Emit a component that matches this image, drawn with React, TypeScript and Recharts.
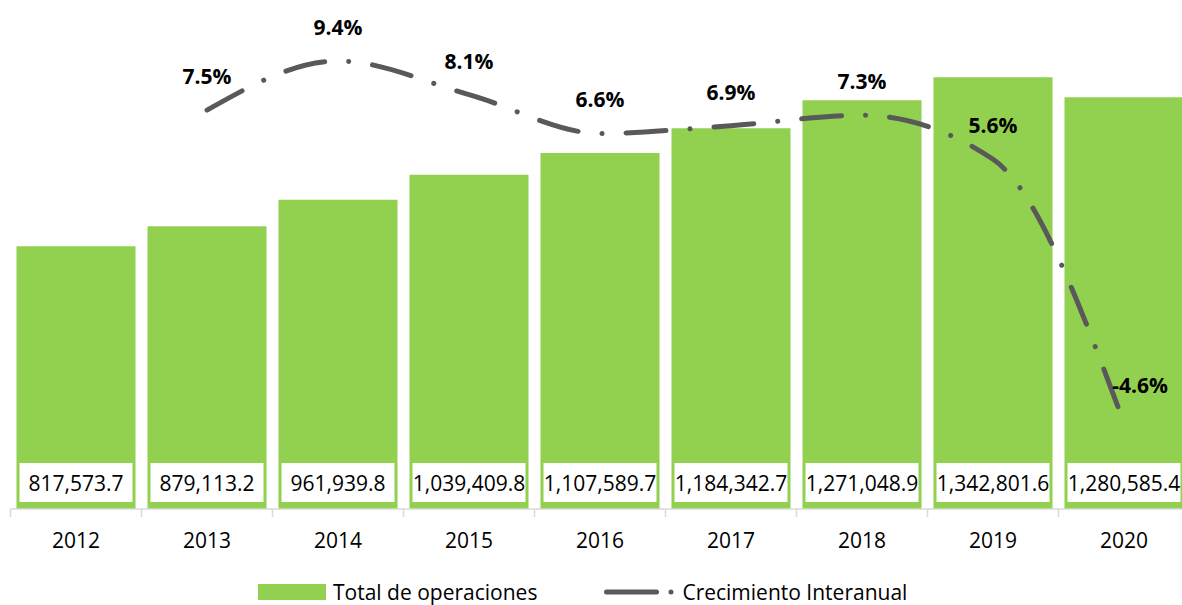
import { Bar, ComposedChart, LabelList, Legend, Line, XAxis, YAxis } from 'recharts';

const years = ['2012', '2013', '2014', '2015', '2016', '2017', '2018', '2019', '2020'];
const totalOps = [817573.7, 879113.2, 961939.8, 1039409.8, 1107589.7, 1184342.7, 1271048.9, 1342801.6, 1280585.4];
const growth = [null, 7.5, 9.4, 8.1, 6.6, 6.9, 7.3, 5.6, -4.6];

const CHART_W = 1200;
const CHART_H = 605;
const MARGIN = { top: 5, right: 10.5, left: 10.5, bottom: 0 };
const BAND = (CHART_W - MARGIN.left - MARGIN.right) / years.length;
const FONT = '"Open Sans", sans-serif';
const GREEN = '#92D050';
const LINE_GREY = '#595959';

const data = years.map((year, i) => ({ year, total: totalOps[i], growth: growth[i] }));

const fmtNum = (v: number) =>
  v.toLocaleString('en-US', { minimumFractionDigits: 1, maximumFractionDigits: 1 });

function YearTick({ x, y, payload, index }: any) {
  const left = x - BAND / 2;
  return (
    <g>
      <line x1={left} x2={left} y1={y} y2={y + 8} stroke="#d9d9d9" strokeWidth={1.5} />
      {index === years.length - 1 && (
        <line x1={left + BAND} x2={left + BAND} y1={y} y2={y + 8} stroke="#d9d9d9" strokeWidth={1.5} />
      )}
      <text x={x} y={y + 31} textAnchor="middle" dominantBaseline="central" fontFamily={FONT} fontSize={21} fill="#000">
        {payload.value}
      </text>
    </g>
  );
}

function ValueBox({ x, y, width, height, value }: any) {
  const bottom = y + height;
  return (
    <g>
      <rect x={x + 3} y={bottom - 46} width={width - 6} height={39} fill="#fff" />
      <text x={x + width / 2} y={bottom - 26} textAnchor="middle" dominantBaseline="central" fontFamily={FONT} fontSize={21} fill="#000">
        {fmtNum(value)}
      </text>
    </g>
  );
}

function PctLabel({ x, y, value, index }: any) {
  if (value == null) return null;
  const last = index === years.length - 1;
  return (
    <text
      x={last ? x + 16 : x}
      y={last ? y - 38 : y - 34}
      textAnchor="middle"
      dominantBaseline="central"
      fontFamily={FONT}
      fontSize={21}
      fontWeight="bold"
      fill="#000"
    >
      {value.toFixed(1)}%
    </text>
  );
}

function LegendBox() {
  return (
    <div style={{ display: 'flex', alignItems: 'center', height: 26, fontFamily: FONT, fontSize: 21, color: '#000', whiteSpace: 'nowrap' }}>
      <span style={{ display: 'inline-block', width: 68, height: 16, background: GREEN, marginRight: 7 }} />
      <span>Total de operaciones</span>
      <svg width={84} height={26} style={{ marginLeft: 61 }}>
        <line x1={8.5} x2={58.5} y1={13} y2={13} stroke={LINE_GREY} strokeWidth={5} strokeLinecap="round" />
        <circle cx={73} cy={13} r={2.5} fill={LINE_GREY} />
      </svg>
      <span>Crecimiento Interanual</span>
    </div>
  );
}

export default function App() {
  return (
    <div style={{ position: 'absolute', left: 0, top: 0, width: 1182, height: 605, overflow: 'hidden', background: '#fff' }}>
      <ComposedChart width={CHART_W} height={CHART_H} data={data} margin={MARGIN}>
        <XAxis
          dataKey="year"
          height={70}
          tickSize={0}
          tickMargin={0}
          tickLine={false}
          axisLine={{ stroke: '#d9d9d9', strokeWidth: 1.5 }}
          tick={<YearTick />}
          interval={0}
        />
        <YAxis yAxisId="left" hide domain={[0, 1567700]} allowDataOverflow />
        <YAxis yAxisId="right" orientation="right" hide domain={[-7.924, 11.565]} allowDataOverflow />
        <Legend
          content={<LegendBox />}
          wrapperStyle={{ left: 258, top: 579, bottom: undefined, width: 'auto' }}
        />
        <Bar yAxisId="left" dataKey="total" name="Total de operaciones" fill={GREEN} barSize={119} isAnimationActive={false}>
          <LabelList dataKey="total" content={<ValueBox />} />
        </Bar>
        <Line
          yAxisId="right"
          type="monotone"
          dataKey="growth"
          name="Crecimiento Interanual"
          stroke={LINE_GREY}
          strokeWidth={5}
          strokeLinecap="round"
          strokeDasharray="40 24 0.1 24"
          dot={false}
          activeDot={false}
          isAnimationActive={false}
        >
          <LabelList dataKey="growth" content={<PctLabel />} />
        </Line>
      </ComposedChart>
    </div>
  );
}
